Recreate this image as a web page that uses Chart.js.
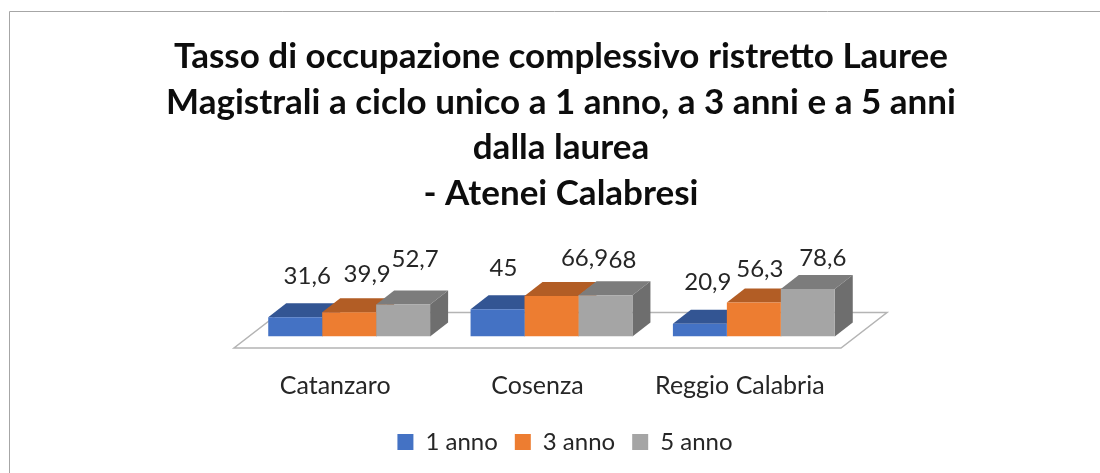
<!DOCTYPE html>
<html>
<head>
<meta charset="utf-8">
<script src="https://cdn.jsdelivr.net/npm/chart.js@4"></script>
<style>
    body { margin: 0; background: #ffffff; }
    canvas { display: block; }
</style>
</head>
<body>
<canvas id="chartjs" width="1100" height="473"></canvas>
<script>
/*==== data ====*/
const categories = ['Catanzaro', 'Cosenza', 'Reggio Calabria'];
const seriesNames = ['1 anno', '3 anno', '5 anno'];
const values_1 = [31.6, 45, 20.9];
const values_3 = [39.9, 66.9, 56.3];
const values_5 = [52.7, 68, 78.6];
const titleLines = [
    'Tasso di occupazione complessivo ristretto Lauree',
    'Magistrali a ciclo unico a 1 anno, a 3 anni e a 5 anni',
    'dalla laurea',
    '- Atenei Calabresi'
];

/*==== colours: front, top, side ====*/
const frontColors = ['#4472c4', '#ed7d31', '#a5a5a5'];
const topColors = ['#335593', '#b25d25', '#7c7c7c'];
const sideColors = ['#2d4d85', '#a05420', '#6e6e6e'];

const depthX = 18;
const depthY = 14;
const fontName = "Lato, sans-serif";

// label nudges (series, category), the labels are not regular in the picture
const labelNudgeX = [[12, 6, 8], [18, 33, 6], [12, 17, 15]];
const labelNudgeY = [[-27, -27, -28], [-24, -24, -19], [-31, -21, -17]];

function face(ctx, color, pts){
    ctx.fillStyle = color;
    ctx.beginPath();
    ctx.moveTo(pts[0][0], pts[0][1]);
    for(var i=1; i<pts.length; i++){
        ctx.lineTo(pts[i][0], pts[i][1]);
    }
    ctx.closePath();
    ctx.fill();
}

/*==== frame, floor and the depth faces of the bars ====*/
const fake3d = {
    id: 'fake3d',
    afterLayout(chart){
        // legend sits a bit right of the title in the picture
        chart.legend.left += 4;
        chart.legend.right += 4;
    },
    beforeDraw(chart){
        const ctx = chart.ctx;
        const area = chart.chartArea;
        ctx.save();
        ctx.strokeStyle = '#a6a6a6';
        ctx.lineWidth = 1;
        ctx.beginPath();
        ctx.moveTo(9.5, 473);
        ctx.lineTo(9.5, 11.5);
        ctx.lineTo(1100, 11.5);
        ctx.stroke();
        // floor
        ctx.strokeStyle = '#b4b4b4';
        ctx.lineWidth = 1.5;
        ctx.beginPath();
        ctx.moveTo(area.left - 14, area.bottom + 11.5);
        ctx.lineTo(area.right - 14, area.bottom + 11.5);
        ctx.lineTo(area.right + 32, area.bottom - 24);
        ctx.lineTo(area.left + 32, area.bottom - 24);
        ctx.closePath();
        ctx.stroke();
        ctx.restore();
    },
    beforeDatasetsDraw(chart){
        const ctx = chart.ctx;
        categories.forEach(function(c, i){
            seriesNames.forEach(function(s, d){
                const bar = chart.getDatasetMeta(d).data[i];
                const l = bar.x - bar.width / 2;
                const r = bar.x + bar.width / 2;
                face(ctx, topColors[d], [[l, bar.y], [r, bar.y], [r + depthX, bar.y - depthY], [l + depthX, bar.y - depthY]]);
                face(ctx, sideColors[d], [[r, bar.y], [r + depthX, bar.y - depthY], [r + depthX, bar.base - depthY], [r, bar.base]]);
            });
        });
    },
    afterDatasetsDraw(chart){
        const ctx = chart.ctx;
        ctx.save();
        ctx.font = '24px ' + fontName;
        ctx.fillStyle = '#262626';
        ctx.textAlign = 'center';
        ctx.textBaseline = 'middle';
        chart.data.datasets.forEach(function(ds, d){
            ds.data.forEach(function(v, i){
                const bar = chart.getDatasetMeta(d).data[i];
                const txt = String(v).replace('.', ',');
                ctx.fillText(txt, bar.x + labelNudgeX[d][i], bar.y - depthY + labelNudgeY[d][i]);
            });
        });
        ctx.restore();
    }
};

/*===== render graphic =====*/
const config = {
    type: 'bar',
    data: {
        labels: categories,
        datasets: [
            { label: seriesNames[0], data: values_1, backgroundColor: frontColors[0] },
            { label: seriesNames[1], data: values_3, backgroundColor: frontColors[1] },
            { label: seriesNames[2], data: values_5, backgroundColor: frontColors[2] }
        ]
    },
    options: {
        responsive: false,
        animation: false,
        categoryPercentage: 0.8,
        barPercentage: 1,
        layout: { padding: { left: 22, right: 0, top: 34, bottom: 9 } },
        scales: {
            x: {
                grid: { display: false },
                border: { display: false },
                ticks: {
                    color: '#262626',
                    padding: 26,
                    labelOffset: -14,
                    maxRotation: 0,
                    font: { family: fontName, size: 25 }
                },
                afterFit(axis){ axis.height = 76.5; }
            },
            y: {
                min: 0,
                max: 166,
                ticks: { display: false },
                grid: { display: false },
                border: { display: false },
                afterFit(axis){ axis.width = 226; }
            },
            yRight: {
                position: 'right',
                ticks: { display: false },
                grid: { display: false },
                border: { display: false },
                afterFit(axis){ axis.width = 245; }
            }
        },
        plugins: {
            tooltip: { enabled: false },
            title: {
                display: true,
                text: titleLines,
                color: '#0d0d0d',
                padding: { top: 0, bottom: 20 },
                font: { family: fontName, size: 35, weight: 'bold', lineHeight: 1.3 }
            },
            legend: {
                position: 'bottom',
                labels: {
                    color: '#262626',
                    boxWidth: 16,
                    boxHeight: 16,
                    padding: 17,
                    font: { family: fontName, size: 24 }
                }
            }
        }
    },
    plugins: [fake3d]
};
var chart = new Chart(document.querySelector('#chartjs'), config);
</script>
</body>
</html>
